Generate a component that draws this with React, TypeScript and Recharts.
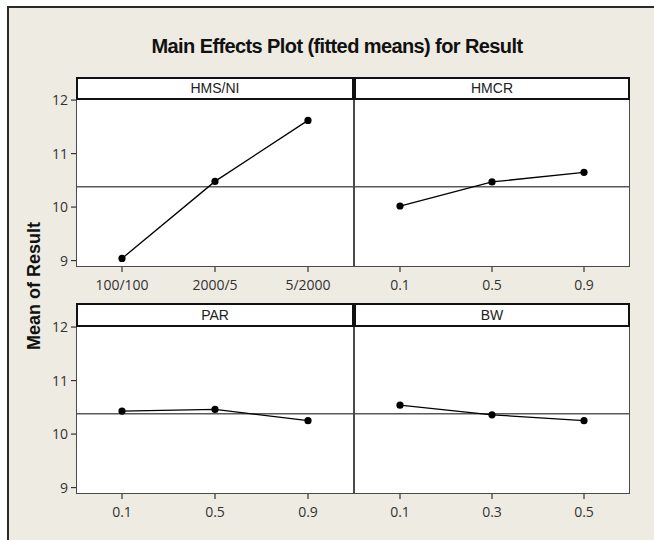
import { LineChart, Line, XAxis, YAxis, ReferenceLine } from 'recharts';

// factor levels and fitted means
const hmsLevels = ['100/100', '2000/5', '5/2000'];
const hmsMeans = [9.04, 10.48, 11.62];
const hmcrLevels = ['0.1', '0.5', '0.9'];
const hmcrMeans = [10.02, 10.47, 10.65];
const parLevels = ['0.1', '0.5', '0.9'];
const parMeans = [10.43, 10.46, 10.25];
const bwLevels = ['0.1', '0.3', '0.5'];
const bwMeans = [10.54, 10.36, 10.25];
const yTicks = [9, 10, 11, 12];

const allMeans = [...hmsMeans, ...hmcrMeans, ...parMeans, ...bwMeans];
const grandMean = allMeans.reduce((a, b) => a + b, 0) / allMeans.length;

const BG = '#eeebe2';
const FONT = '"Liberation Sans", Arial, sans-serif';
const TICK_FONT = '"Open Sans", "DejaVu Sans", sans-serif';
const Y_DOMAIN: [number, number] = [8.88, 12.02];
const PLOT_H = 168;
const X_AXIS_H = 40;
const Y_AXIS_W = 40;
const TOP_M = 12; // room so the top tick label is not clipped

type PanelProps = {
    title: string;
    levels: string[];
    means: number[];
    x: number;
    width: number;
    headerTop: number;
    headerH: number;
    showY: boolean;
};

const Panel = ({ title, levels, means, x, width, headerTop, headerH, showY }: PanelProps) => {
    const data = levels.map((level, i) => ({ level, mean: means[i] }));
    const plotTop = headerTop + headerH;
    const yW = showY ? Y_AXIS_W : 0;
    // half a band on each side, like a categorical plot
    const pad = Math.round(width / levels.length / 2);

    return (
        <>
            <div style={{ position: 'absolute', left: x - yW, top: plotTop - TOP_M }}>
                <div style={{ position: 'absolute', left: yW, top: TOP_M, width, height: PLOT_H, background: '#fff' }} />
                <LineChart
                    width={width + yW}
                    height={PLOT_H + X_AXIS_H + TOP_M}
                    data={data}
                    margin={{ top: TOP_M, right: 0, bottom: 0, left: 0 }}
                    style={{ position: 'relative' }}
                >
                    <XAxis
                        dataKey="level"
                        height={X_AXIS_H}
                        axisLine={false}
                        padding={{ left: pad, right: pad }}
                        tickSize={5}
                        tickMargin={8}
                        tickLine={{ stroke: '#333', strokeWidth: 1.2 }}
                        tick={{ fill: '#333', fontSize: 14, fontFamily: TICK_FONT }}
                        interval={0}
                    />
                    <YAxis
                        hide={!showY}
                        width={Y_AXIS_W}
                        type="number"
                        domain={Y_DOMAIN}
                        allowDataOverflow
                        ticks={yTicks}
                        axisLine={false}
                        tickSize={5}
                        tickMargin={3}
                        tickLine={{ stroke: '#333', strokeWidth: 1.2 }}
                        tick={{ fill: '#333', fontSize: 14, fontFamily: TICK_FONT }}
                    />
                    <ReferenceLine y={grandMean} stroke="#5a5a5a" strokeWidth={1.5} />
                    <Line
                        type="linear"
                        dataKey="mean"
                        stroke="#000"
                        strokeWidth={1.3}
                        dot={{ r: 3.6, fill: '#000', stroke: '#000', strokeWidth: 0 }}
                        isAnimationActive={false}
                    />
                </LineChart>
            </div>
            {/* plot frame */}
            <div
                style={{
                    position: 'absolute',
                    left: x,
                    top: plotTop,
                    width,
                    height: PLOT_H,
                    border: '1.5px solid #4a4a4a',
                    boxSizing: 'border-box',
                    pointerEvents: 'none',
                }}
            />
            {/* strip header */}
            <div
                style={{
                    position: 'absolute',
                    left: x,
                    top: headerTop,
                    width,
                    height: headerH + 1,
                    border: '2px solid #111',
                    boxSizing: 'border-box',
                    background: '#fff',
                    fontFamily: FONT,
                    fontSize: 14,
                    color: '#222',
                    textAlign: 'center',
                    lineHeight: `${headerH - 3}px`,
                }}
            >
                {title}
            </div>
        </>
    );
};

export default function App() {
    return (
        <div style={{ position: 'absolute', left: 0, top: 0, width: 654, height: 540, background: '#fff', overflow: 'hidden' }}>
            <div
                style={{
                    position: 'absolute',
                    left: 7,
                    top: 6,
                    width: 680,
                    height: 560,
                    background: BG,
                    borderLeft: '2px solid #2a2a2a',
                    borderTop: '2px solid #2a2a2a',
                }}
            />
            <svg width={654} height={540} style={{ position: 'absolute', left: 0, top: 0 }}>
                <text
                    x={337}
                    y={53}
                    textAnchor="middle"
                    fontFamily={FONT}
                    fontWeight="bold"
                    fontSize={20}
                    fill="#111"
                    letterSpacing={-0.6}
                >
                    Main Effects Plot (fitted means) for Result
                </text>
                <text
                    x={0}
                    y={0}
                    transform="translate(40 286) rotate(-90)"
                    textAnchor="middle"
                    fontFamily={FONT}
                    fontWeight="bold"
                    fontSize={18}
                    fill="#111"
                >
                    Mean of Result
                </text>
            </svg>
            <Panel title="HMS/NI" levels={hmsLevels} means={hmsMeans} x={76} width={278} headerTop={77} headerH={22} showY />
            <Panel title="HMCR" levels={hmcrLevels} means={hmcrMeans} x={354} width={276} headerTop={77} headerH={22} showY={false} />
            <Panel title="PAR" levels={parLevels} means={parMeans} x={76} width={278} headerTop={303} headerH={23} showY />
            <Panel title="BW" levels={bwLevels} means={bwMeans} x={354} width={276} headerTop={303} headerH={23} showY={false} />
        </div>
    );
}
